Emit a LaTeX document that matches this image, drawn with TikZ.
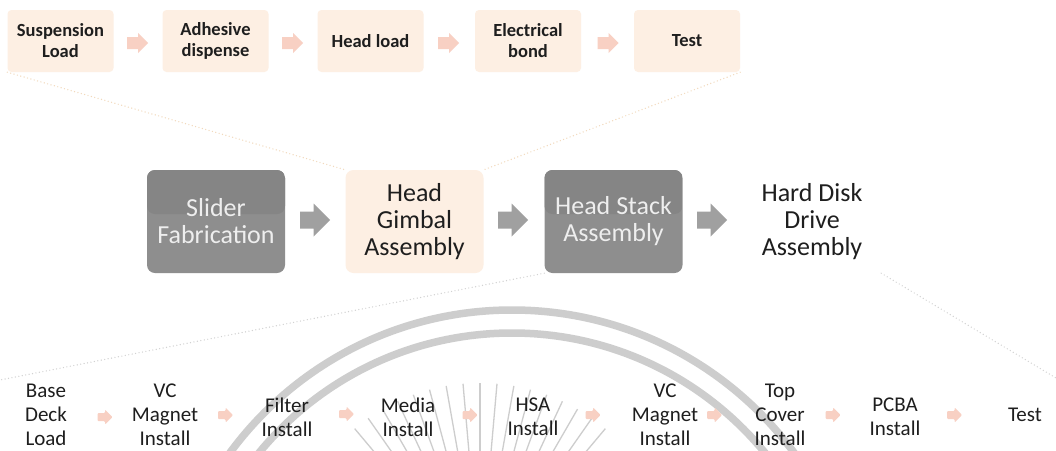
\documentclass[tikz,border=0pt]{standalone}
\usepackage{fontspec}
\setmainfont{Carlito}
\definecolor{peach}{HTML}{FDEFE3}
\definecolor{pinkarrow}{HTML}{F8D0C3}
\definecolor{boxgray}{HTML}{8E8E8E}
\definecolor{boxgraydark}{HTML}{858585}
\definecolor{boxtext}{HTML}{EEEEEE}
\definecolor{midarrow}{HTML}{A0A0A0}
\definecolor{wmgray}{HTML}{CDCDCD}
\definecolor{dotpeach}{HTML}{F2D9BC}
\definecolor{dotgray}{HTML}{D2D2D2}
\definecolor{ink}{HTML}{1E1E1E}
\begin{document}
\begin{tikzpicture}[x=1pt,y=-1pt,
  topbox/.style={fill=peach, rounded corners=4pt, minimum width=106pt, minimum height=62pt,
    align=center, text=ink, font=\fontsize{18.5}{21}\selectfont\bfseries, inner sep=0pt},
  grayblock/.style={fill=boxgray, rounded corners=8pt, minimum width=138pt, minimum height=103pt,
    align=center, text=boxtext, font=\fontsize{26}{27}\selectfont, inner sep=0pt,
    path picture={\fill[boxgraydark] (path picture bounding box.north west) rectangle ([yshift=-44pt]path picture bounding box.north east);}},
  peachblock/.style={fill=peach, rounded corners=8pt, minimum width=138pt, minimum height=103pt,
    align=center, text=ink, font=\fontsize{26}{27}\selectfont, inner sep=0pt},
  plainblock/.style={minimum width=138pt, minimum height=103pt,
    align=center, text=ink, font=\fontsize{26}{27}\selectfont, inner sep=0pt},
  procstep/.style={align=center, text=ink, font=\fontsize{21}{24}\selectfont, inner sep=0pt},
  toparr/.pic={\fill[pinkarrow] (-10.5,-6) -- (0.5,-6) -- (0.5,-10) -- (10.5,0) -- (0.5,10) -- (0.5,6) -- (-10.5,6) -- cycle;},
  midarr/.pic={\fill[midarrow] (-15,-8.5) -- (-1.5,-8.5) -- (-1.5,-16.5) -- (15,0) -- (-1.5,16.5) -- (-1.5,8.5) -- (-15,8.5) -- cycle;},
  botarr/.pic={\fill[pinkarrow, rounded corners=1pt] (-7.5,-4) -- (0,-4) -- (0,-7.5) -- (7.5,0) -- (0,7.5) -- (0,4) -- (-7.5,4) -- cycle;},
  peachdots/.style={draw=dotpeach, line width=1.4pt, line cap=round, dash pattern=on 0pt off 3.5pt},
  graydots/.style={draw=dotgray, line width=1.4pt, line cap=round, dash pattern=on 0pt off 3.5pt},
  wmarc/.style={draw=wmgray, line width=7.5pt},
  wmray/.style={draw=wmgray, line width=1.3pt}
]
\useasboundingbox (0,0) rectangle (1056,450);
\clip (0,0) rectangle (1056,450);
\fill[white] (0,0) rectangle (1056,450);

% watermark
\draw[wmarc] (512,660) circle [radius=350pt];
\draw[wmarc] (512,660) circle [radius=327pt];
\foreach \a in {50,55,...,130} {
  \draw[wmray, shift={(480,578)}] (-\a:115) -- (-\a:195);
}

% top row
\node[topbox] (t1) at (60.5,41) {Suspension\\Load};
\pic (ta1) at (137.5,43) {toparr};
\node[topbox] (t2) at (215.5,41) {Adhesive\\dispense};
\pic (ta2) at (292.5,43) {toparr};
\node[topbox] (t3) at (370.5,41) {Head load};
\pic (ta3) at (448.5,43) {toparr};
\node[topbox] (t4) at (528,41) {Electrical\\bond};
\pic (ta4) at (608,43) {toparr};
\node[topbox] (t5) at (687,41) {Test};

% middle row
\node[grayblock] (sf) at (216,221.5) {Slider\\Fabrication};
\pic (ma1) at (315,220) {midarr};
\node[peachblock] (hga) at (414.5,221.5) {Head\\Gimbal\\Assembly};
\pic (ma2) at (513,220) {midarr};
\node[grayblock] (hsa) at (613.5,221.5) {Head Stack\\Assembly};
\pic (ma3) at (712,220) {midarr};
\node[plainblock] (hdd) at (812,221.5) {Hard Disk\\Drive\\Assembly};

% expansion guides
\coordinate (bl) at (0,380);
\coordinate (br) at (1056,378);
\draw[peachdots] (t1.south west) -- (hga.north west);
\draw[peachdots] (t5.south east) -- (hga.north east);
\draw[graydots] (hsa.south west) -- (bl);
\draw[graydots] (hdd.south east) -- (br);

% bottom row
\node[procstep] (b1) at (46,414.5) {Base\\Deck\\Load};
\pic (ba1) at (105,417) {botarr};
\node[procstep] (b2) at (165,414.5) {VC\\Magnet\\Install};
\pic (ba2) at (225.5,415) {botarr};
\node[procstep] (b3) at (287,417) {Filter\\Install};
\pic (ba3) at (346.5,414) {botarr};
\node[procstep] (b4) at (408,417) {Media\\Install};
\pic (ba4) at (470,415) {botarr};
\node[procstep] (b5) at (533,417) {HSA\\Install};
\pic (ba5) at (593,415) {botarr};
\node[procstep] (b6) at (665,414.5) {VC\\Magnet\\Install};
\pic (ba6) at (714.5,415) {botarr};
\node[procstep] (b7) at (780,414.5) {Top\\Cover\\Install};
\pic (ba7) at (833,415) {botarr};
\node[procstep] (b8) at (895,417) {PCBA\\Install};
\pic (ba8) at (954.5,415) {botarr};
\node[procstep] (b9) at (1025,414.5) {Test};
\end{tikzpicture}
\end{document}
